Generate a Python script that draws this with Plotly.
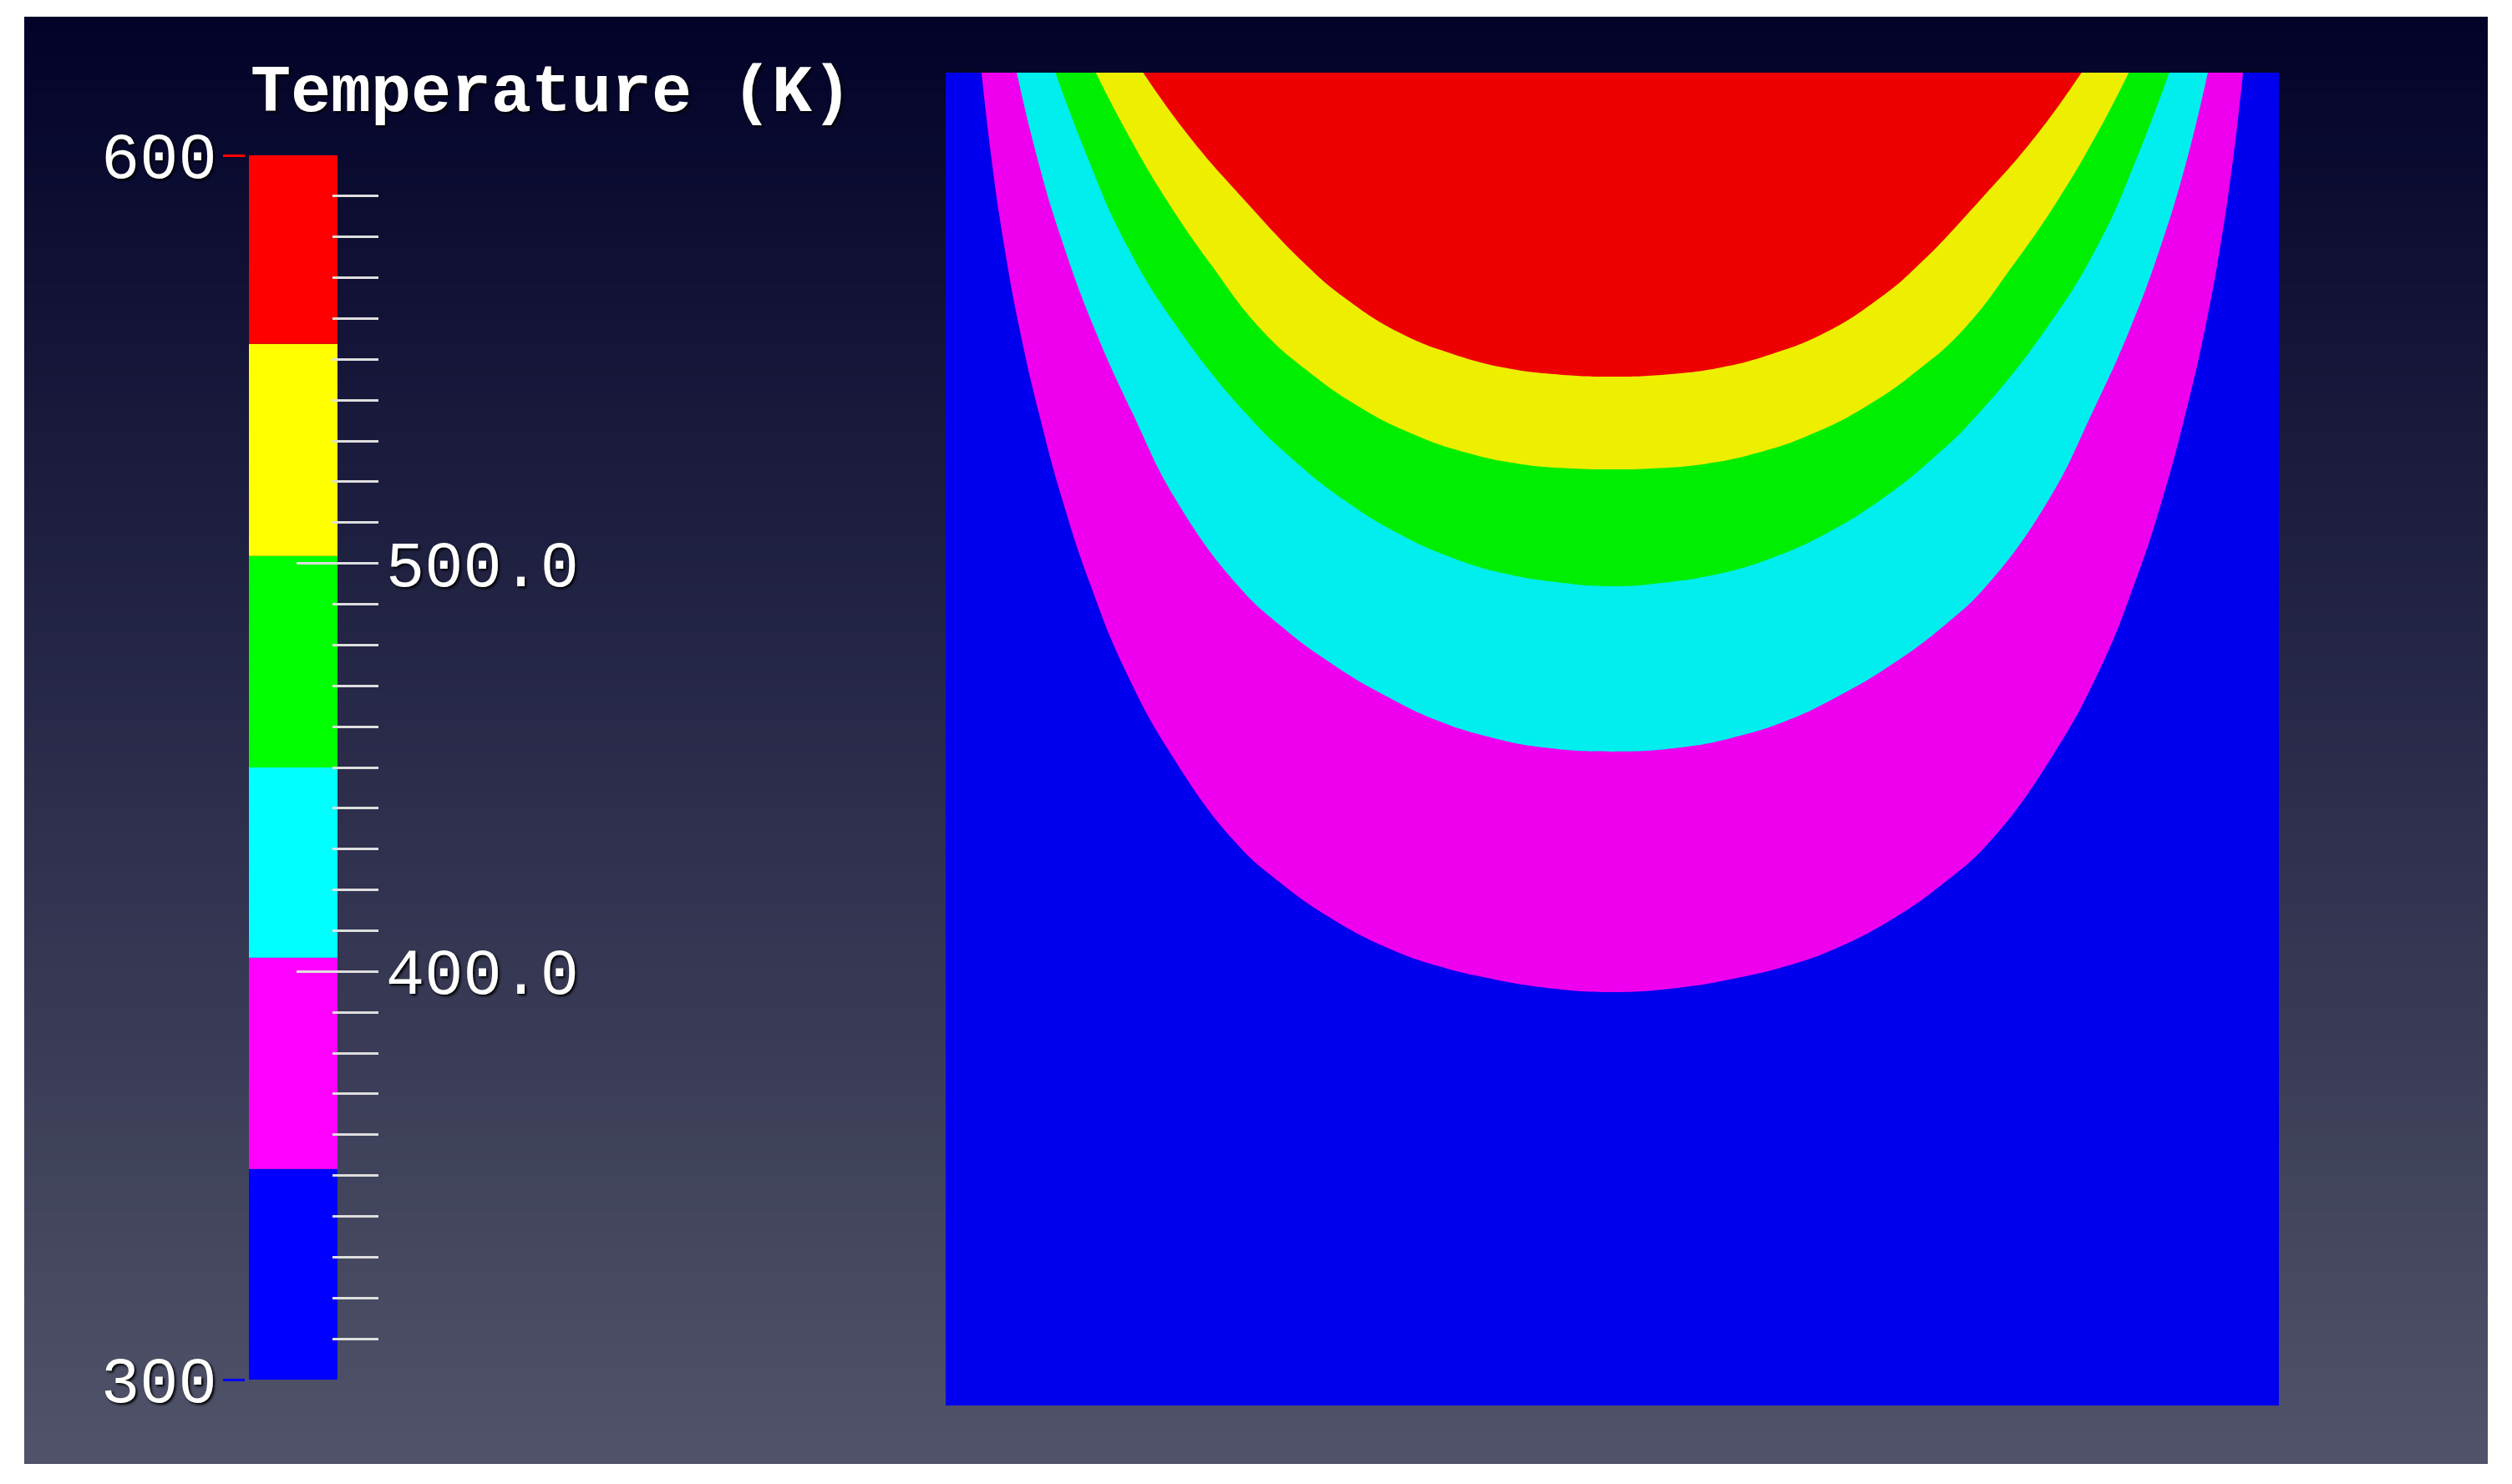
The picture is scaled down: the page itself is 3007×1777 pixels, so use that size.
import plotly.graph_objects as go

# ---------------- data ----------------
t_min, t_max = 300, 600
colorbar_edges = [300, 351.6, 403.4, 450.0, 501.8, 553.8, 600]
bar_colors = ["#0000FF", "#FF00FF", "#00FFFF", "#00FF00", "#FFFF00", "#FF0000"]
field_colors = ["#0000EE", "#EE00EE", "#00EEEE", "#00EE00", "#EEEE00", "#EE0000"]
right_tick_vals = [400, 500]
right_tick_text = ["400.0", "500.0"]
top_tick_vals = [600]
top_tick_text = ["600"]
bottom_tick_vals = [300]
bottom_tick_text = ["300"]
title_text = "Temperature (K)"

# domain of the field, in % of its width / depth
domain_x = [0, 100, 100, 0]
domain_depth = [0, 0, 100, 100]

# isotherms (x, depth) in % of the domain, traced left -> bottom -> right
iso350_x = [2.69, 3.43, 4.36, 5.54, 7.01, 8.74, 10.85, 13.45, 16.95, 21.6, 25, 29, 33, 37, 41, 45, 50,
            55, 59, 63, 67, 71, 75, 78.4, 83.05, 86.55, 89.15, 91.26, 92.99, 94.46, 95.64, 96.57, 97.31]
iso350_depth = [0, 6.4, 12.8, 19.2, 25.6, 32.0, 38.4, 44.8, 51.2, 57.6, 60.7, 63.5, 65.6, 67.05, 68.0, 68.65, 68.98,
                68.65, 68.0, 67.05, 65.6, 63.5, 60.7, 57.6, 51.2, 44.8, 38.4, 32.0, 25.6, 19.2, 12.8, 6.4, 0]

iso400_x = [5.33, 6.87, 8.79, 11.16, 14.04, 17.24, 21.84, 25, 29, 33, 37, 41, 45, 50,
            55, 59, 63, 67, 71, 75, 78.16, 82.76, 85.96, 88.84, 91.21, 93.13, 94.67]
iso400_depth = [0, 6.4, 12.8, 19.2, 25.6, 32.0, 38.4, 41.4, 44.38, 46.76, 48.66, 49.9, 50.65, 50.94,
                50.65, 49.9, 48.66, 46.76, 44.38, 41.4, 38.4, 32.0, 25.6, 19.2, 12.8, 6.4, 0]

iso450_x = [8.23, 10.66, 13.5, 17.45, 22.55, 26, 30, 34, 38, 42, 46, 50,
            54, 58, 62, 66, 70, 74, 77.45, 82.55, 86.5, 89.34, 91.77]
iso450_depth = [0, 6.4, 12.8, 19.2, 25.6, 28.98, 32.15, 34.6, 36.4, 37.6, 38.25, 38.53,
                38.25, 37.6, 36.4, 34.6, 32.15, 28.98, 25.6, 19.2, 12.8, 6.4, 0]

iso500_x = [11.26, 13.76, 16.6, 19.9, 23.6, 27, 31, 35, 39, 43, 47, 50,
            53, 57, 61, 65, 69, 73, 76.4, 80.1, 83.4, 86.24, 88.74]
iso500_depth = [0, 4.8, 9.6, 14.4, 19.2, 22.26, 25.06, 27.1, 28.5, 29.35, 29.7, 29.76,
                29.7, 29.35, 28.5, 27.1, 25.06, 22.26, 19.2, 14.4, 9.6, 4.8, 0]

iso550_x = [14.81, 18.27, 22.45, 27, 30, 34, 38, 42, 46, 50,
            54, 58, 62, 66, 70, 73, 77.55, 81.73, 85.19]
iso550_depth = [0, 4.8, 9.6, 14.4, 16.95, 19.49, 21.1, 22.15, 22.65, 22.81,
                22.65, 22.15, 21.1, 19.49, 16.95, 14.4, 9.6, 4.8, 0]

isotherms = [(iso350_x, iso350_depth), (iso400_x, iso400_depth), (iso450_x, iso450_depth),
             (iso500_x, iso500_depth), (iso550_x, iso550_depth)]

# ---------------- page geometry ----------------
W, H = 3007, 1777


def px(X):
    return X / W


def py(Y):
    return 1 - Y / H


FONT = "Liberation Mono, Courier New, monospace"
SHADOW = "2px 2px 3px #000000"

fig = go.Figure()

# temperature field: background band + nested isotherm regions
fig.add_trace(go.Scatter(x=domain_x, y=domain_depth, fill="toself", mode="lines",
                         line=dict(width=0), fillcolor=field_colors[0],
                         showlegend=False, hoverinfo="skip"))
for (xs, ds), col in zip(isotherms, field_colors[1:]):
    fig.add_trace(go.Scatter(x=xs, y=ds, fill="toself", mode="lines",
                             line=dict(width=0, shape="spline", smoothing=1.3),
                             fillcolor=col, showlegend=False, hoverinfo="skip"))

# colour bar bands
for lo, hi, col in zip(colorbar_edges[:-1], colorbar_edges[1:], bar_colors):
    fig.add_trace(go.Bar(x=[0], y=[hi - lo], base=[lo], width=1,
                         marker=dict(color=col, line=dict(width=0)),
                         xaxis="x2", yaxis="y2", showlegend=False, hoverinfo="skip"))

# invisible anchors for the tick axes of the colour bar
for ax, vals in (("y3", right_tick_vals), ("y4", top_tick_vals), ("y5", bottom_tick_vals)):
    fig.add_trace(go.Scatter(x=[0] * len(vals), y=vals, xaxis="x2", yaxis=ax, mode="markers",
                             marker=dict(opacity=0), showlegend=False, hoverinfo="skip"))

# background gradient strips (decoration)
top_rgb = (3, 3, 42)
bot_rgb = (80, 83, 105)
Y0, Y1 = 20, 1753
N = 120
shapes = []
for i in range(N):
    f = i / (N - 1)
    c = tuple(round(a + (b - a) * f) for a, b in zip(top_rgb, bot_rgb))
    ya = Y0 + (Y1 - Y0) * i / N
    yb = min(Y0 + (Y1 - Y0) * (i + 1) / N + 1, Y1)
    shapes.append(dict(type="rect", xref="paper", yref="paper", layer="below",
                       x0=px(29), x1=px(2978), y0=py(yb), y1=py(ya),
                       fillcolor="rgb(%d,%d,%d)" % c, line=dict(width=0)))

cb_dom = [py(1652), py(186)]
tick_font = dict(family=FONT, size=77, color="white", shadow=SHADOW)

fig.update_layout(
    width=W, height=H,
    autosize=False,
    margin=dict(l=0, r=0, t=0, b=0, pad=0, autoexpand=False),
    paper_bgcolor="white",
    plot_bgcolor="rgba(0,0,0,0)",
    showlegend=False,
    barmode="overlay",
    shapes=shapes,
    xaxis=dict(domain=[px(1132), px(2728)], range=[0, 100], visible=False, fixedrange=True, automargin=False),
    yaxis=dict(domain=[py(1683), py(87)], range=[100, 0], visible=False, fixedrange=True, automargin=False),
    xaxis2=dict(domain=[px(298), px(404)], range=[-0.5, 0.5], visible=False, anchor="y2", automargin=False),
    yaxis2=dict(domain=cb_dom, range=[t_min, t_max], visible=False, anchor="x2", automargin=False),
    yaxis3=dict(overlaying="y2", anchor="free", position=px(453), side="right", automargin=False,
                range=[t_min, t_max], showgrid=False, zeroline=False, showline=False,
                tickmode="array", tickvals=right_tick_vals, ticktext=right_tick_text,
                ticks="inside", ticklen=98, tickwidth=3, tickcolor="#DEDEDE",
                ticklabelstandoff=8, tickfont=tick_font,
                minor=dict(ticks="inside", ticklen=55, tickwidth=3, tickcolor="#DEDEDE",
                           tickmode="linear", tick0=300, dtick=10, showgrid=False)),
    yaxis4=dict(overlaying="y2", anchor="free", position=px(293), side="left", automargin=False,
                range=[t_min, t_max], showgrid=False, zeroline=False, showline=False,
                tickmode="array", tickvals=top_tick_vals, ticktext=top_tick_text,
                ticks="outside", ticklen=26, tickwidth=3, tickcolor="#FF0000",
                ticklabelstandoff=-8, tickfont=tick_font),
    yaxis5=dict(overlaying="y2", anchor="free", position=px(293), side="left", automargin=False,
                range=[t_min, t_max], showgrid=False, zeroline=False, showline=False,
                tickmode="array", tickvals=bottom_tick_vals, ticktext=bottom_tick_text,
                ticks="outside", ticklen=26, tickwidth=3, tickcolor="#0000FF",
                ticklabelstandoff=-8, tickfont=tick_font),
    annotations=[dict(text=title_text, xref="paper", yref="paper", x=px(298), y=py(112),
                      xanchor="left", yanchor="middle", showarrow=False,
                      font=dict(family=FONT, size=80, color="white", weight="bold", shadow=SHADOW))],
)

fig.write_html(
    "out.html",
    config={"displayModeBar": False},
    post_script=("var gd=document.getElementById('{plot_id}');"
                 "gd.style.position='fixed';gd.style.left='0px';gd.style.top='0px';"
                 "document.body.style.margin='0px';"
                 "document.documentElement.style.overflow='hidden';"),
)
